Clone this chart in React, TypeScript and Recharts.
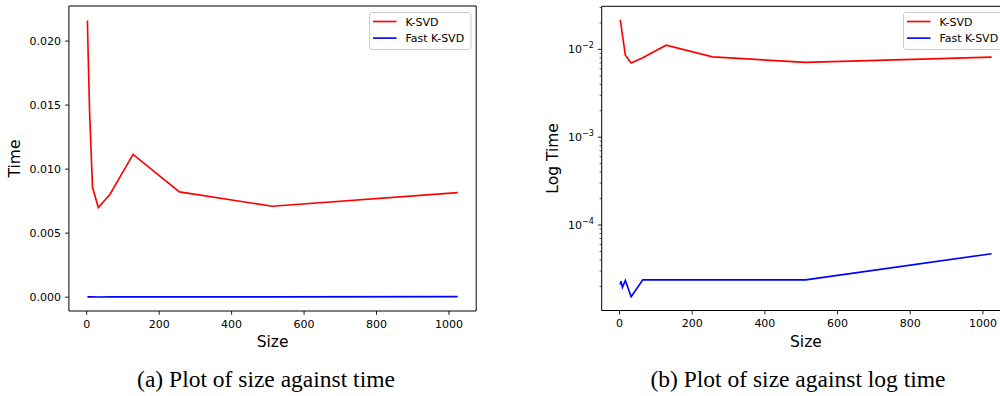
import React from 'react';
import { LineChart, Line, XAxis, YAxis, Legend, Label, ReferenceArea } from 'recharts';

// ---- data ----
const sizes = [2, 4, 8, 16, 32, 64, 128, 256, 512, 1024];
const ksvdTimes = [0.0216, 0.019, 0.0145, 0.0086, 0.00700, 0.00802, 0.01115, 0.00822, 0.00710, 0.00816];
const fastKsvdTimes = [2.1e-5, 2.3e-5, 1.95e-5, 2.34e-5, 1.53e-5, 2.38e-5, 2.38e-5, 2.38e-5, 2.38e-5, 4.72e-5];
const xTicks = [0, 200, 400, 600, 800, 1000];
const linTicks = [0, 0.005, 0.01, 0.015, 0.02];
const logMajorTicks = [1e-4, 1e-3, 1e-2];
const logMinorTicks = [
  2e-5, 3e-5, 4e-5, 5e-5, 6e-5, 7e-5, 8e-5, 9e-5,
  2e-4, 3e-4, 4e-4, 5e-4, 6e-4, 7e-4, 8e-4, 9e-4,
  2e-3, 3e-3, 4e-3, 5e-3, 6e-3, 7e-3, 8e-3, 9e-3,
  2e-2, 3e-2,
];
const seriesNames = ['K-SVD', 'Fast K-SVD'];
const seriesColors = ['#ff0000', '#0000ff'];
const captions = ['(a) Plot of size against time', '(b) Plot of size against log time'];

const data = sizes.map((s, i) => ({ size: s, ksvd: ksvdTimes[i], fast: fastKsvdTimes[i] }));

const xDomain: [number, number] = [-49.1, 1075.1];
const linDomain: [number, number] = [-0.00108, 0.02274];
const logDomain: [number, number] = [Math.pow(10, -4.9726), Math.pow(10, -1.5097)];

const FONT = 'DejaVu Sans, sans-serif';
const TICK_LEN = 3.8;
const MINOR_LEN = 2.2;
const TICK_PAD = 4;

const XTick = (props: any) => {
  const { x, y, payload } = props;
  return (
    <g>
      <line x1={x} x2={x} y1={y} y2={y + TICK_LEN} stroke="#000" strokeWidth={0.9} />
      <text x={x} y={y + TICK_LEN + TICK_PAD + 9} textAnchor="middle" fontSize={11} fontFamily={FONT} fill="#000">
        {payload.value}
      </text>
    </g>
  );
};

const YTickLin = (props: any) => {
  const { x, y, payload } = props;
  return (
    <g>
      <line x1={x} x2={x - TICK_LEN} y1={y} y2={y} stroke="#000" strokeWidth={0.9} />
      <text x={x - TICK_LEN - TICK_PAD} y={y + 4} textAnchor="end" fontSize={11} fontFamily={FONT} fill="#000">
        {Number(payload.value).toFixed(3)}
      </text>
    </g>
  );
};

const YTickLog = (props: any) => {
  const { x, y, payload } = props;
  const v = Number(payload.value);
  const exp = Math.round(Math.log10(v));
  const isMajor = Math.abs(Math.log10(v) - exp) < 1e-6;
  if (!isMajor) {
    return <line x1={x} x2={x - MINOR_LEN} y1={y} y2={y} stroke="#000" strokeWidth={0.6} />;
  }
  return (
    <g>
      <line x1={x} x2={x - TICK_LEN} y1={y} y2={y} stroke="#000" strokeWidth={0.9} />
      <text x={x - TICK_LEN - TICK_PAD} y={y + 4} textAnchor="end" fontSize={11} fontFamily={FONT} fill="#000">
        <tspan>10</tspan>
        <tspan dy={-5} fontSize={8}>{'\u2212' + Math.abs(exp)}</tspan>
      </text>
    </g>
  );
};

const LegendBox = () => (
  <svg width={103} height={39} style={{ display: 'block' }}>
    <rect x={0.5} y={0.5} width={101.5} height={37} rx={2.5} ry={2.5} fill="rgba(255,255,255,0.8)" stroke="#cccccc" strokeWidth={1} />
    {seriesNames.map((n, i) => (
      <g key={n}>
        <line x1={4} x2={27.5} y1={9.5 + i * 16.6} y2={9.5 + i * 16.6} stroke={seriesColors[i]} strokeWidth={1.65} />
        <text x={36.5} y={13.5 + i * 16.6} fontSize={11} fontFamily={FONT} fill="#000">{n}</text>
      </g>
    ))}
  </svg>
);

const ChartPanel = ({ log }: { log: boolean }) => {
  const yWidth = log ? 71.7 : 68.9;
  const plotW = log ? 408.5 : 407.3;
  const width = 500;
  const top = log ? 6.3 : 6;
  const xh = log ? 49.5 : 49;
  const height = 360;
  const legendLeft = log ? 902.7 - 530 : 369.3;
  return (
    <LineChart
      width={width}
      height={height}
      data={data}
      margin={{ top, right: width - yWidth - plotW, bottom: 0, left: 0 }}
    >
      <XAxis
        dataKey="size"
        type="number"
        domain={xDomain}
        allowDataOverflow
        ticks={xTicks}
        interval={0}
        tickSize={0}
        tickMargin={0}
        axisLine={false}
        tickLine={false}
        height={xh}
        tick={<XTick />}
      >
        <Label
          content={(p: any) => {
            const vb = p.viewBox;
            return (
              <text x={vb.x + vb.width / 2} y={vb.y + 36} textAnchor="middle" fontSize={15.5} fontFamily={FONT} fill="#000">
                Size
              </text>
            );
          }}
        />
      </XAxis>
      <YAxis
        type="number"
        scale={log ? 'log' : 'linear'}
        domain={log ? logDomain : linDomain}
        allowDataOverflow
        ticks={log ? [...logMinorTicks, ...logMajorTicks].sort((a, b) => a - b) : linTicks}
        interval={0}
        tickSize={0}
        tickMargin={0}
        axisLine={false}
        tickLine={false}
        width={yWidth}
        tick={log ? <YTickLog /> : <YTickLin />}
      >
        <Label
          content={(p: any) => {
            const vb = p.viewBox;
            const cx = log ? 23.3 : 15;
            const cy = vb.y + vb.height / 2;
            return (
              <text
                x={cx}
                y={cy}
                transform={`rotate(-90, ${cx}, ${cy})`}
                textAnchor="middle"
                dominantBaseline="central"
                fontSize={15.5}
                fontFamily={FONT}
                fill="#000"
              >
                {log ? 'Log Time' : 'Time'}
              </text>
            );
          }}
        />
      </YAxis>
      <ReferenceArea
        x1={xDomain[0]}
        x2={xDomain[1]}
        y1={(log ? logDomain : linDomain)[0]}
        y2={(log ? logDomain : linDomain)[1]}
        fill="none"
        fillOpacity={0}
        stroke="#000"
        strokeWidth={1}
        ifOverflow="visible"
      />
      <Line dataKey="ksvd" name={seriesNames[0]} stroke={seriesColors[0]} strokeWidth={1.65} dot={false} isAnimationActive={false} />
      <Line dataKey="fast" name={seriesNames[1]} stroke={seriesColors[1]} strokeWidth={1.65} dot={false} isAnimationActive={false} />
      <Legend
        layout="horizontal"
        verticalAlign="middle"
        align="center"
        content={() => <LegendBox />}
        wrapperStyle={{ position: 'absolute', left: legendLeft, top: 12, width: 103, height: 39, bottom: 'auto', right: 'auto' }}
      />
    </LineChart>
  );
};

export default function App() {
  return (
    <div style={{ position: 'absolute', left: 0, top: 0, width: 1000, height: 396, overflow: 'hidden', background: '#fff' }}>
      <div style={{ position: 'absolute', left: 0, top: 0 }}>
        <ChartPanel log={false} />
      </div>
      <div style={{ position: 'absolute', left: 530, top: 0 }}>
        <ChartPanel log={true} />
      </div>
      <div style={{ position: 'absolute', left: 66, top: 364, width: 400, textAlign: 'center', fontFamily: 'Liberation Serif, serif', fontSize: 23.5, lineHeight: '30px', whiteSpace: 'nowrap', color: '#000' }}>
        {captions[0]}
      </div>
      <div style={{ position: 'absolute', left: 598, top: 364, width: 400, textAlign: 'center', fontFamily: 'Liberation Serif, serif', fontSize: 23.5, lineHeight: '30px', whiteSpace: 'nowrap', color: '#000' }}>
        {captions[1]}
      </div>
    </div>
  );
}
